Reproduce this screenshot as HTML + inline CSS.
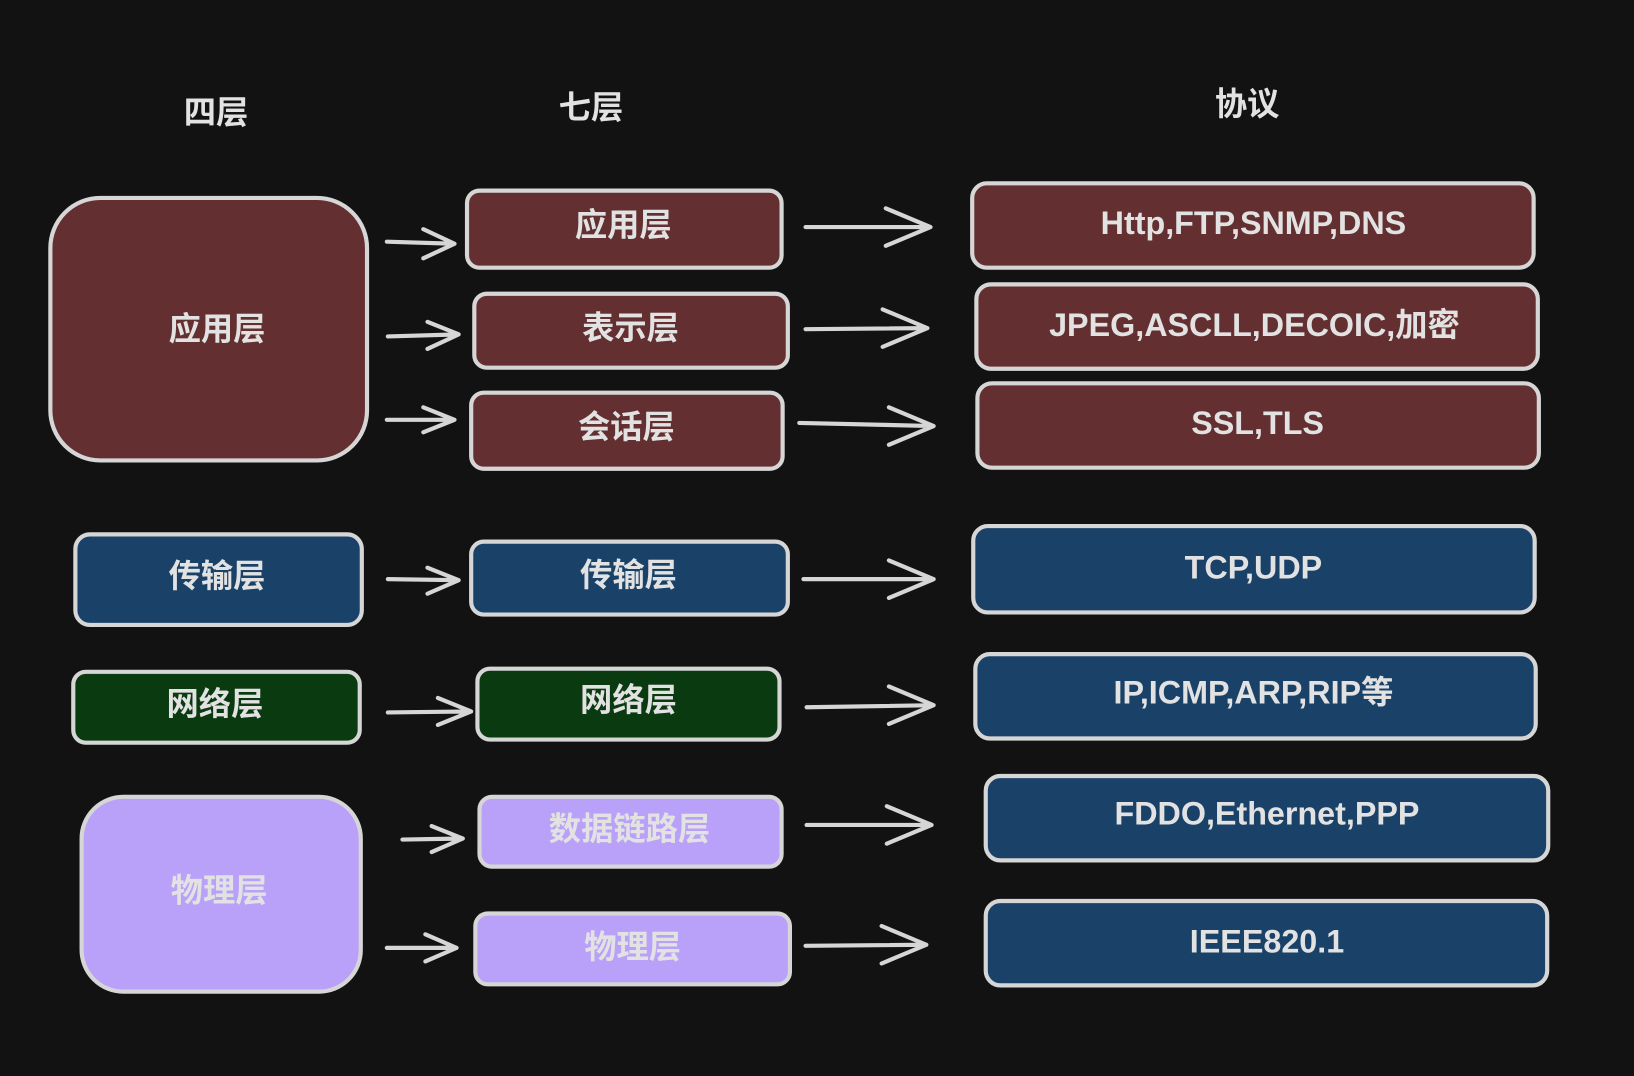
<!DOCTYPE html>
<html><head><meta charset="utf-8"><style>
html,body{margin:0;padding:0;background:#121212;}
svg{display:block}
text{font-family:"Liberation Sans","Noto Sans CJK SC",sans-serif;fill:#e2e2e2;text-anchor:middle;dominant-baseline:central;font-size:31px;font-weight:bold;}
</style></head><body>
<svg width="1634" height="1076" viewBox="0 0 1568 1033" xmlns="http://www.w3.org/2000/svg">
<rect width="1568" height="1033" fill="#121212"/>
<g font-size="32">
<text x="207" y="108">四层</text>
<text x="567" y="103">七层</text>
<text x="1197" y="100">协议</text>
</g>
<g stroke="#d6d6d6" stroke-width="4">
<rect x="48" y="190" width="304" height="252" rx="48" fill="#632f30"/>
<rect x="72" y="513" width="275" height="87" rx="14" fill="#1a4268"/>
<rect x="70" y="645" width="275" height="68" rx="12" fill="#0a3a10"/>
<rect x="78" y="765" width="268" height="187" rx="40" fill="#b9a0f8"/>

<rect x="448" y="183" width="302" height="74" rx="12" fill="#632f30"/>
<rect x="455" y="282" width="301" height="71" rx="12" fill="#632f30"/>
<rect x="452" y="377" width="299" height="73" rx="12" fill="#632f30"/>
<rect x="452" y="520" width="304" height="70" rx="12" fill="#1a4268"/>
<rect x="458" y="642" width="290" height="68" rx="12" fill="#0a3a10"/>
<rect x="460" y="765" width="290" height="67" rx="12" fill="#b9a0f8"/>
<rect x="456" y="877" width="302" height="68" rx="12" fill="#b9a0f8"/>

<rect x="933" y="176" width="539" height="81" rx="14" fill="#632f30"/>
<rect x="937" y="273" width="539" height="81" rx="14" fill="#632f30"/>
<rect x="938" y="368" width="539" height="81" rx="14" fill="#632f30"/>
<rect x="934" y="505" width="539" height="83" rx="14" fill="#1a4268"/>
<rect x="936" y="628" width="538" height="81" rx="14" fill="#1a4268"/>
<rect x="946" y="745" width="540" height="81" rx="14" fill="#1a4268"/>
<rect x="946" y="865" width="539" height="81" rx="14" fill="#1a4268"/>
</g>
<g stroke="#d6d6d6" stroke-width="4" fill="none" stroke-linecap="round" stroke-linejoin="round">
<path d="M371 232 L436 234 M406 220 L436 234 L406 248"/>
<path d="M372 323 L440 321 M410 309 L440 321 L410 335"/>
<path d="M371 403 L436 403 M406 391 L436 403 L406 415"/>
<path d="M372 556 L440 557 M410 545 L440 557 L410 570"/>
<path d="M372 684 L452 683 M420 670 L452 683 L420 696"/>
<path d="M386 806 L444 805 M414 793 L444 805 L414 818"/>
<path d="M371 910 L438 910 M408 897 L438 910 L408 923"/>
<path d="M773 218 L893 218 M850 200 L893 218 L850 236"/>
<path d="M773 316 L890 315 M847 297 L890 315 L847 333"/>
<path d="M767 406 L896 409 M853 391 L896 409 L853 427"/>
<path d="M771 556 L896 556 M853 538 L896 556 L853 574"/>
<path d="M774 679 L896 677 M853 659 L896 677 L853 695"/>
<path d="M774 792 L894 792 M851 774 L894 792 L851 810"/>
<path d="M773 908 L889 907 M846 889 L889 907 L846 925"/>
</g>
<text x="208" y="316">应用层</text>
<text x="208" y="553">传输层</text>
<text x="206" y="676">网络层</text>
<text x="210" y="855" fill="#d8d8d8">物理层</text>
<text x="598" y="216">应用层</text>
<text x="605" y="315">表示层</text>
<text x="601" y="410">会话层</text>
<text x="603" y="552">传输层</text>
<text x="603" y="672">网络层</text>
<text x="604" y="796" fill="#d8d8d8">数据链路层</text>
<text x="607" y="909" fill="#d8d8d8">物理层</text>
<text x="1203" y="214">Http,FTP,SNMP,DNS</text>
<text x="1204" y="312">JPEG,ASCLL,DECOIC,加密</text>
<text x="1207" y="406">SSL,TLS</text>
<text x="1203" y="545">TCP,UDP</text>
<text x="1203" y="665">IP,ICMP,ARP,RIP等</text>
<text x="1216" y="781">FDDO,Ethernet,PPP</text>
<text x="1216" y="904">IEEE820.1</text>
</svg>
</body></html>
